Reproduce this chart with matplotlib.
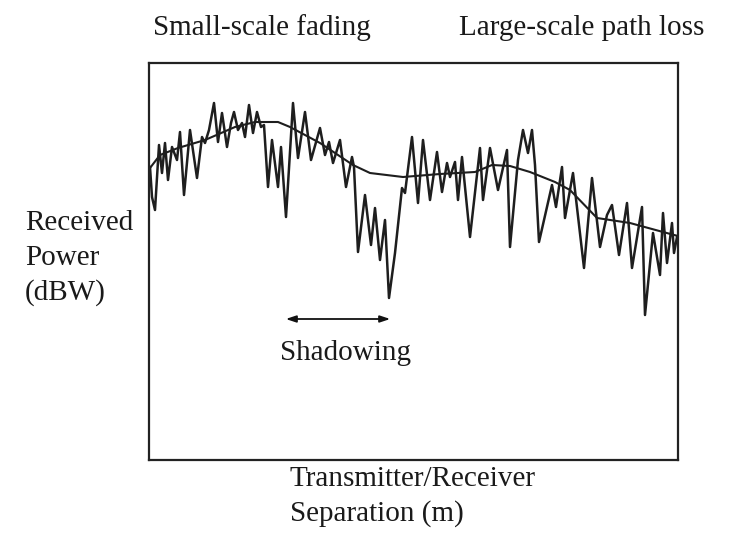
import numpy as np
import matplotlib.pyplot as plt

plt.rcParams['font.family'] = ['Liberation Serif', 'DejaVu Serif']

# received power along the path (fast fading trace)
dist = [1, 3, 6, 10, 13, 16, 19, 23, 28, 31, 35, 41, 48, 53, 56, 60, 65, 69, 73, 78,
        82, 85, 89, 93, 96, 100, 104, 108, 112, 115, 119, 123, 129, 132, 137, 144, 149,
        156, 162, 171, 176, 180, 184, 191, 197, 203, 205, 209, 216, 222, 226, 231, 236,
        240, 246, 253, 256, 263, 269, 274, 281, 288, 293, 298, 301, 306, 309, 313, 321,
        331, 334, 341, 349, 358, 361, 369, 374, 379, 383, 386, 390, 403, 407, 413, 416,
        424, 435, 443, 451, 458, 463, 470, 478, 483, 493, 496, 504, 511, 514, 518, 523,
        525, 528]
power = [293, 263, 250, 315, 287, 317, 280, 313, 300, 328, 265, 330, 282, 323, 317, 330,
         357, 318, 347, 313, 337, 348, 330, 337, 323, 355, 327, 348, 333, 335, 273, 320,
         273, 313, 243, 357, 302, 348, 300, 332, 305, 318, 297, 320, 273, 303, 293, 208,
         265, 215, 252, 200, 240, 162, 207, 272, 267, 323, 257, 320, 260, 308, 268, 297,
         283, 298, 260, 303, 223, 312, 260, 312, 270, 310, 213, 300, 330, 307, 330, 295,
         218, 275, 253, 293, 242, 287, 192, 282, 213, 245, 255, 205, 257, 192, 253, 145,
         227, 185, 247, 197, 237, 207, 223]

# local mean (path loss + shadowing)
mean_dist = [1, 11, 29, 56, 86, 106, 129, 141, 171, 204, 221, 254, 291, 326, 343, 361,
             381, 406, 421, 448, 481, 514, 529]
mean_power = [292, 305, 312, 320, 333, 338, 338, 333, 317, 295, 287, 283, 286, 288, 295,
              294, 288, 278, 270, 242, 237, 228, 224]

shadow_span = (134, 244)
shadow_level = 141

fig = plt.figure(figsize=(7.35, 5.33), dpi=100)
W, H = 735, 533
ax = fig.add_axes([149 / W, (H - 460) / H, 529 / W, 397 / H])
ax.set_xlim(0, 529)
ax.set_ylim(0, 397)
ax.set_xticks([])
ax.set_yticks([])
for s in ax.spines.values():
    s.set_linewidth(1.6)
    s.set_color('#222222')

ax.plot(dist, power, color='#1e1e1e', lw=1.8, solid_joinstyle='round')
ax.plot(mean_dist, mean_power, color='#1e1e1e', lw=1.5)

ax.annotate('', xy=(shadow_span[0], shadow_level), xytext=(shadow_span[1], shadow_level),
            arrowprops=dict(arrowstyle='<|-|>,head_length=0.6,head_width=0.2',
                            color='#111111', lw=1.3))

fs = 21
tc = '#1a1a1a'
fig.text(153 / W, 1 - 28 / H, 'Small-scale fading', fontsize=fs, color=tc, va='center')
fig.text(459 / W, 1 - 28 / H, 'Large-scale path loss', fontsize=fs, color=tc, va='center')
fig.text(25 / W, 1 - 223 / H, 'Received', fontsize=fs, color=tc, va='center')
fig.text(25 / W, 1 - 258 / H, 'Power', fontsize=fs, color=tc, va='center')
fig.text(25 / W, 1 - 293 / H, '(dBW)', fontsize=fs, color=tc, va='center')
fig.text(345 / W, 1 - 353 / H, 'Shadowing', fontsize=fs, color=tc, va='center', ha='center')
fig.text(290 / W, 1 - 479 / H, 'Transmitter/Receiver', fontsize=fs, color=tc, va='center')
fig.text(290 / W, 1 - 514 / H, 'Separation (m)', fontsize=fs, color=tc, va='center')

fig.savefig('out.png', dpi=100, facecolor='white')
